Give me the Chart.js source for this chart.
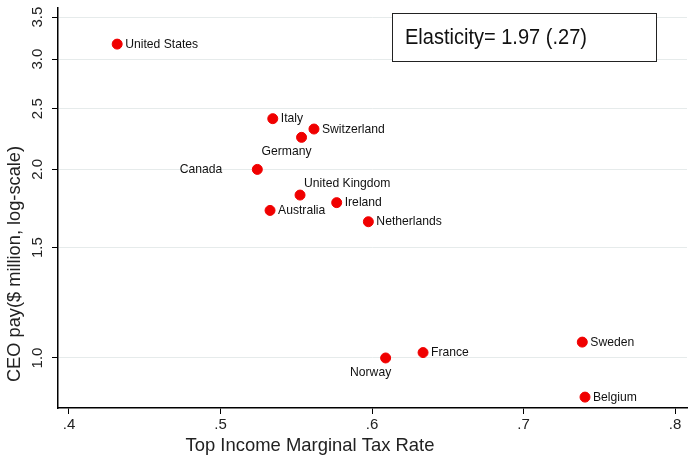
<!DOCTYPE html>
<html>
<head>
<meta charset="utf-8">
<script src="https://cdn.jsdelivr.net/npm/chart.js@4.4.0/dist/chart.umd.min.js"></script>
<style>
  html, body { margin: 0; padding: 0; background: #fff; }
  #wrap { width: 688px; height: 458px; }
</style>
</head>
<body>
<div id="wrap"><canvas id="myChart"></canvas></div>
<script>
// data
const countries = ["United States", "Italy", "Switzerland", "Germany", "Canada", "United Kingdom",
  "Ireland", "Australia", "Netherlands", "Norway", "France", "Sweden", "Belgium"];
const taxRate = [0.4318, 0.5345, 0.5617, 0.5535, 0.5243, 0.5525, 0.5767, 0.5327, 0.5976, 0.6090, 0.6337, 0.7388, 0.7406];
const ceoPay = [3.17, 2.41, 2.32, 2.25, 2.00, 1.82, 1.77, 1.72, 1.65, 1.00, 1.02, 1.06, 0.866];
// label placement: r = right, b = below, l = left, tr = above right
const labelPos = ["r", "r", "r", "b", "l", "tr", "r", "r", "r", "b", "r", "r", "r"];
const xTicks = [0.4, 0.5, 0.6, 0.7, 0.8];
const yTicks = [1.0, 1.5, 2.0, 2.5, 3.0, 3.5];
const elasticityText = "Elasticity= 1.97 (.27)";

const FONT = "'Liberation Sans', Arial, sans-serif";

function squishText(ctx, text, x, y, sx) {
  ctx.save();
  ctx.translate(x, y);
  ctx.scale(sx, 1);
  ctx.fillText(text, 0, 0);
  ctx.restore();
}

const extras = {
  id: 'extras',
  afterDraw(chart) {
    const ctx = chart.ctx;
    const xScale = chart.scales.x;
    const yScale = chart.scales.y;

    ctx.save();
    ctx.fillStyle = '#222';
    ctx.font = '15px ' + FONT;
    ctx.textAlign = 'center';
    ctx.textBaseline = 'middle';

    // x tick labels
    xTicks.forEach(v => {
      ctx.fillText(v.toFixed(1).replace(/^0/, ''), xScale.getPixelForValue(v), 425);
    });

    // y tick labels, rotated
    yTicks.forEach(v => {
      const py = yScale.getPixelForValue(v);
      ctx.save();
      ctx.translate(38, py);
      ctx.rotate(-Math.PI / 2);
      ctx.fillText(v.toFixed(1), 0, 0);
      ctx.restore();
    });

    // y title
    ctx.font = '19px ' + FONT;
    ctx.save();
    ctx.translate(15, 264);
    ctx.rotate(-Math.PI / 2);
    squishText(ctx, "CEO pay($ million, log-scale)", 0, 0, 0.96);
    ctx.restore();

    // x title
    squishText(ctx, "Top Income Marginal Tax Rate", 310, 446, 0.97);
    ctx.restore();

    // point labels
    const meta = chart.getDatasetMeta(0);
    ctx.save();
    ctx.fillStyle = '#111';
    ctx.font = '13.5px ' + FONT;
    ctx.textBaseline = 'middle';
    ctx.textAlign = 'left';
    meta.data.forEach((pt, i) => {
      const txt = countries[i];
      const w = ctx.measureText(txt).width * 0.9;
      let tx, ty;
      const pos = labelPos[i];
      if (pos === 'r') { tx = pt.x + 8; ty = pt.y; }
      else if (pos === 'l') { tx = pt.x - 35 - w; ty = pt.y; }
      else if (pos === 'b') { tx = pt.x - 15 - w / 2; ty = pt.y + 14; }
      else { tx = pt.x + 4; ty = pt.y - 12; }
      squishText(ctx, txt, tx, ty, 0.9);
    });
    ctx.restore();

    // elasticity box
    ctx.save();
    ctx.fillStyle = '#fff';
    ctx.fillRect(392, 13, 265, 49);
    ctx.strokeStyle = '#222';
    ctx.lineWidth = 1;
    ctx.strokeRect(392.5, 13.5, 264, 48);
    ctx.fillStyle = '#111';
    ctx.font = '22px ' + FONT;
    ctx.textBaseline = 'middle';
    squishText(ctx, elasticityText, 405, 38, 0.91);
    ctx.restore();
  }
};

const ctx = document.getElementById('myChart').getContext('2d');
const myChart = new Chart(ctx, {
  type: 'scatter',
  data: {
    datasets: [{
      label: 'CEO pay',
      data: taxRate.map((x, i) => ({ x: x, y: ceoPay[i] })),
      backgroundColor: '#f00000',
      borderColor: '#f00000',
      pointRadius: 5,
      pointHoverRadius: 5,
    }]
  },
  plugins: [extras],
  options: {
    responsive: true,
    maintainAspectRatio: false,
    animation: false,
    devicePixelRatio: 1,
    layout: { autoPadding: false, padding: { top: 8, right: 1, left: 0, bottom: 0 } },
    plugins: {
      legend: { display: false },
      tooltip: { enabled: false }
    },
    scales: {
      x: {
        type: 'linear',
        min: 0.39274,
        max: 0.80792,
        afterBuildTicks: scale => { scale.ticks = xTicks.map(v => ({ value: v })); },
        afterFit: scale => { scale.height = 50; },
        border: { color: '#000', width: 1.5 },
        grid: { drawOnChartArea: false, tickLength: 6, color: '#000', tickColor: '#000' },
        ticks: { display: false }
      },
      y: {
        type: 'logarithmic',
        min: 0.832,
        max: 3.62,
        afterBuildTicks: scale => { scale.ticks = yTicks.map(v => ({ value: v })); },
        afterFit: scale => { scale.width = 58; },
        border: { color: '#000', width: 1.5 },
        grid: { color: '#e6ebeb', lineWidth: 1, tickLength: 6, tickColor: '#000' },
        ticks: { display: false }
      }
    }
  }
});
</script>
</body>
</html>
